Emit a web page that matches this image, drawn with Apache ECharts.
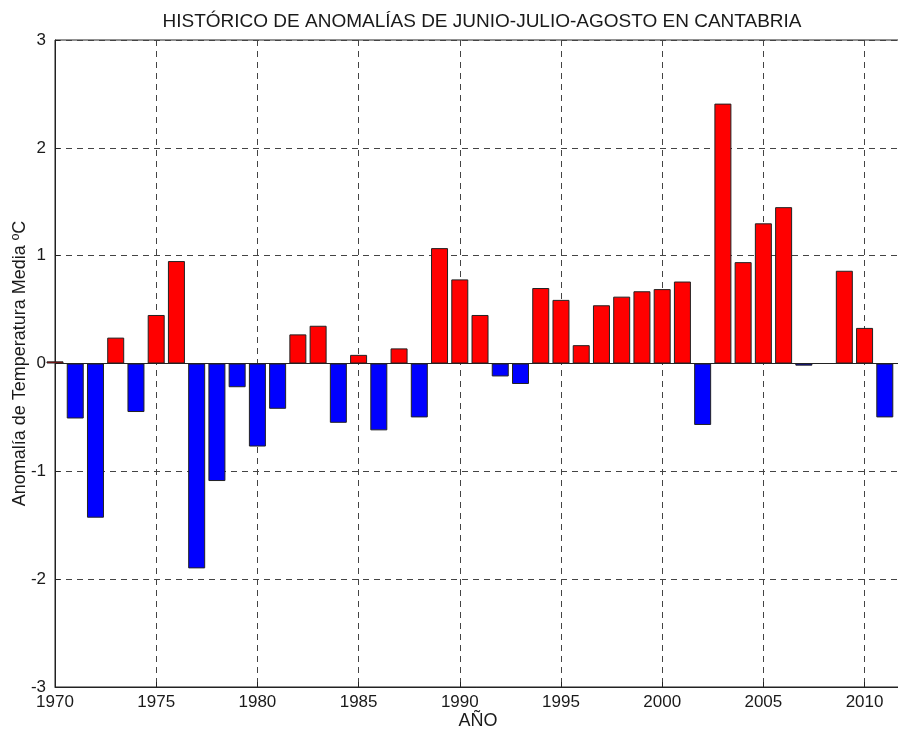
<!DOCTYPE html>
<html>
<head>
<meta charset="utf-8">
<script src="https://cdn.jsdelivr.net/npm/echarts@6/dist/echarts.min.js"></script>
<style>
  html, body { margin: 0; padding: 0; background: #fff; }
</style>
</head>
<body>
<div id="chart" style="width:898px;height:729px;"></div>
<script>
// años y anomalias JJA (ºC)
var years = [1970, 1971, 1972, 1973, 1974, 1975, 1976, 1977, 1978, 1979,
  1980, 1981, 1982, 1983, 1984, 1985, 1986, 1987, 1988, 1989,
  1990, 1991, 1992, 1993, 1994, 1995, 1996, 1997, 1998, 1999,
  2000, 2001, 2002, 2003, 2004, 2005, 2006, 2007, 2008, 2009,
  2010, 2011];
var anomalias = [0.02, -0.51, -1.43, 0.24, -0.45, 0.45, 0.95, -1.90, -1.09, -0.22,
  -0.77, -0.42, 0.27, 0.35, -0.55, 0.08, -0.62, 0.14, -0.50, 1.07,
  0.78, 0.45, -0.12, -0.19, 0.70, 0.59, 0.17, 0.54, 0.62, 0.67,
  0.69, 0.76, -0.57, 2.41, 0.94, 1.30, 1.45, -0.02, null, 0.86,
  0.33, -0.50];
var xTicks = [1970, 1975, 1980, 1985, 1990, 1995, 2000, 2005, 2010];
var yTicks = [-3, -2, -1, 0, 1, 2, 3];

var datos = [];
for (var i = 0; i < years.length; i++) {
  datos.push([years[i], anomalias[i]]);
}

var myChart = echarts.init(document.getElementById("chart"));
myChart.setOption({
  animation: false,
  textStyle: { fontFamily: "Liberation Sans" },
  title: {
    text: "HISTÓRICO DE ANOMALÍAS DE JUNIO-JULIO-AGOSTO EN CANTABRIA",
    left: 477,
    textAlign: "center",
    top: 7,
    textStyle: {
      color: "#1a1a1a",
      fontWeight: "normal",
      fontFamily: "Liberation Sans",
      fontSize: 19,
    },
  },
  grid: {
    left: 55,
    right: -3,
    top: 40,
    bottom: 42,
    outerBoundsMode: "none",
    containLabel: false,
    show: true,
    borderColor: "#222",
    borderWidth: 1,
  },
  xAxis: {
    type: "value",
    min: 1970,
    max: 2011.8,
    interval: 5,
    name: "AÑO",
    nameLocation: "middle",
    nameGap: 25,
    nameMoveOverlap: false,
    nameTextStyle: { color: "#1a1a1a", fontSize: 18, fontFamily: "Liberation Sans" },
    axisLine: { onZero: false, lineStyle: { color: "#222" } },
    axisTick: { inside: true, length: 5, lineStyle: { color: "#222" } },
    axisLabel: {
      color: "#1a1a1a",
      fontSize: 17,
      margin: 7,
      showMaxLabel: false,
      formatter: function (v) {
        return xTicks.indexOf(v) >= 0 ? String(v) : "";
      },
    },
    splitLine: {
      show: true,
      lineStyle: { color: "#444", type: [6, 5], width: 1 },
    },
  },
  yAxis: {
    type: "value",
    min: -3,
    max: 3,
    interval: 1,
    name: "Anomalía de Temperatura Media ºC",
    nameLocation: "middle",
    nameGap: 26,
    nameMoveOverlap: false,
    nameTextStyle: { color: "#1a1a1a", fontSize: 18, fontFamily: "Liberation Sans" },
    axisLine: { lineStyle: { color: "#222" } },
    axisTick: { inside: true, length: 5, lineStyle: { color: "#222" } },
    axisLabel: {
      color: "#1a1a1a",
      fontSize: 17,
      margin: 9,
      formatter: function (v) {
        return yTicks.indexOf(v) >= 0 ? String(v) : "";
      },
    },
    splitLine: {
      show: true,
      lineStyle: { color: "#444", type: [6, 5], width: 1 },
    },
  },
  series: [
    {
      type: "bar",
      data: datos,
      barWidth: 17,
      clip: true,
      itemStyle: {
        color: function (p) {
          return p.value[1] >= 0 ? "#ff0000" : "#0000ff";
        },
        borderColor: "#222",
        borderWidth: 1,
      },
      markLine: {
        silent: true,
        symbol: "none",
        label: { show: false },
        lineStyle: { color: "#222", type: "solid", width: 1 },
        data: [{ yAxis: 0 }],
      },
    },
  ],
});
</script>
</body>
</html>
